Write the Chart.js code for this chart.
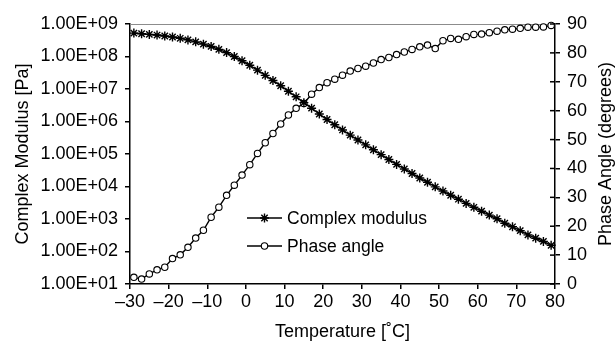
<!DOCTYPE html>
<html>
<head>
<meta charset="utf-8">
<script src="https://cdn.jsdelivr.net/npm/chart.js@4.4.1/dist/chart.umd.min.js"></script>
<style>
  body { margin: 0; background: #fff; }
  #wrap { width: 615px; height: 343px; position: relative; }
</style>
</head>
<body>
<div id="wrap"><canvas id="dmaChart"></canvas></div>
<script>
// temperature sweep (degC), one reading every 2 degrees
const temps = [-29, -27, -25, -23, -21, -19, -17, -15, -13, -11, -9, -7, -5, -3, -1,
  1, 3, 5, 7, 9, 11, 13, 15, 17, 19, 21, 23, 25, 27, 29, 31, 33, 35, 37, 39,
  41, 43, 45, 47, 49, 51, 53, 55, 57, 59, 61, 63, 65, 67, 69, 71, 73, 75, 77, 79];

// complex modulus [Pa]
const modulus = [5.25e8, 5.01e8, 4.79e8, 4.57e8, 4.27e8, 3.98e8, 3.63e8, 3.24e8, 2.82e8, 2.40e8,
  2.04e8, 1.66e8, 1.32e8, 1.00e8, 7.41e7, 5.37e7, 3.80e7, 2.63e7, 1.82e7, 1.26e7,
  8.51e6, 5.75e6, 3.80e6, 2.57e6, 1.70e6, 1.15e6, 7.94e5, 5.50e5, 3.80e5, 2.69e5,
  1.91e5, 1.35e5, 9.55e4, 6.76e4, 4.79e4, 3.47e4, 2.51e4, 1.82e4, 1.35e4, 9.77e3,
  7.24e3, 5.37e3, 4.07e3, 3.02e3, 2.29e3, 1.74e3, 1.32e3, 1.02e3, 7.41e2, 5.75e2,
  4.37e2, 3.24e2, 2.57e2, 2.04e2, 1.55e2];

// phase angle [degrees]
const phaseAngle = [2.3, 1.7, 3.5, 4.9, 5.8, 8.8, 10.1, 12.7, 15.9, 18.6,
  23.1, 26.6, 30.7, 34.2, 37.7, 41.3, 45.2, 48.9, 52.1, 55.4,
  58.5, 60.8, 62.5, 65.7, 68.0, 69.7, 70.9, 72.3, 73.7, 74.6,
  75.4, 76.5, 77.7, 78.4, 79.4, 80.3, 81.2, 82.1, 82.7, 81.5,
  84.2, 85.0, 84.7, 85.6, 86.4, 86.5, 87.0, 87.5, 88.0, 88.2,
  88.5, 88.9, 88.9, 89.0, 89.5];

// axis ticks
const tempTicks = [-30, -20, -10, 0, 10, 20, 30, 40, 50, 60, 70, 80];
const modulusTicks = [1e1, 1e2, 1e3, 1e4, 1e5, 1e6, 1e7, 1e8, 1e9];
const modulusLabels = ['1.00E+01', '1.00E+02', '1.00E+03', '1.00E+04', '1.00E+05',
  '1.00E+06', '1.00E+07', '1.00E+08', '1.00E+09'];
const phaseTicks = [0, 10, 20, 30, 40, 50, 60, 70, 80, 90];

const seriesNames = ['Complex modulus', 'Phase angle'];

const FONT = "'Liberation Sans', Arial, sans-serif";
const tickFont = { family: FONT, size: 18 };

// bits Chart.js doesn't draw the way the figure does
const extras = {
    id: 'extras',
    beforeDatasetsDraw(chart) {
        const { ctx, chartArea: a } = chart;
        ctx.save();
        ctx.strokeStyle = '#8c8c8c';
        ctx.lineWidth = 1;
        ctx.beginPath();
        ctx.moveTo(a.left, a.top + 0.5);
        ctx.lineTo(a.right, a.top + 0.5);
        ctx.stroke();
        ctx.restore();
    },
    afterDraw(chart) {
        const { ctx, chartArea: a, scales } = chart;
        ctx.save();

        // right axis ticks cross the axis line
        const yr = scales.yPhase;
        ctx.strokeStyle = '#000';
        ctx.lineWidth = 1.5;
        yr.ticks.forEach(t => {
            const y = yr.getPixelForValue(t.value);
            ctx.beginPath();
            ctx.moveTo(a.right - 5, y);
            ctx.lineTo(a.right, y);
            ctx.stroke();
        });

        // right title reads bottom-to-top in the figure
        ctx.fillStyle = '#000';
        ctx.font = '18px ' + FONT;
        ctx.textAlign = 'center';
        ctx.textBaseline = 'middle';
        ctx.save();
        ctx.translate(606, (a.top + a.bottom) / 2);
        ctx.rotate(-Math.PI / 2);
        ctx.fillText('Phase Angle (degrees)', 0, 0);
        ctx.restore();

        // legend inside the plot
        const lx = 247, lw = 35;
        const rows = [218, 246];
        chart.data.datasets.forEach((ds, i) => {
            const y = rows[i];
            ctx.strokeStyle = ds.borderColor;
            ctx.lineWidth = ds.borderWidth;
            ctx.beginPath();
            ctx.moveTo(lx, y);
            ctx.lineTo(lx + lw, y);
            ctx.stroke();
            ctx.fillStyle = ds.pointBackgroundColor;
            ctx.strokeStyle = ds.pointBorderColor;
            ctx.lineWidth = ds.pointBorderWidth;
            Chart.helpers.drawPoint(ctx, {
                pointStyle: ds.pointStyle,
                radius: ds.pointRadius,
                rotation: 0,
                borderWidth: ds.pointBorderWidth
            }, lx + lw / 2, y);
            ctx.fillStyle = '#000';
            ctx.font = '17.5px ' + FONT;
            ctx.textAlign = 'left';
            ctx.fillText(ds.label, lx + lw + 5, y + 1);
        });
        ctx.restore();
    }
};

new Chart(document.getElementById('dmaChart'), {
    type: 'line',
    data: {
        datasets: [{
            label: seriesNames[0],
            data: temps.map((t, i) => ({ x: t, y: modulus[i] })),
            yAxisID: 'y',
            borderColor: '#000',
            borderWidth: 1.5,
            pointStyle: 'star',
            pointRadius: 4.5,
            pointBackgroundColor: '#000',
            pointBorderColor: '#000',
            pointBorderWidth: 1.4,
            tension: 0,
            clip: false
        }, {
            label: seriesNames[1],
            data: temps.map((t, i) => ({ x: t, y: phaseAngle[i] })),
            yAxisID: 'yPhase',
            borderColor: '#000',
            borderWidth: 1.4,
            pointStyle: 'circle',
            pointRadius: 3.2,
            pointBackgroundColor: '#fff',
            pointBorderColor: '#000',
            pointBorderWidth: 1.1,
            tension: 0,
            clip: false
        }]
    },
    options: {
        responsive: true,
        maintainAspectRatio: false,
        animation: false,
        layout: { padding: { top: 24, left: 0, right: 0, bottom: 0 } },
        plugins: {
            legend: { display: false },
            tooltip: { enabled: false }
        },
        scales: {
            x: {
                type: 'linear',
                min: -30,
                max: 80,
                afterBuildTicks: s => { s.ticks = tempTicks.map(v => ({ value: v })); },
                afterFit: s => { s.height = 59; },
                ticks: {
                    callback: v => (v < 0 ? '\u2013' + Math.abs(v) : String(v)),
                    font: tickFont,
                    color: '#000',
                    padding: 2,
                    maxRotation: 0,
                    autoSkip: false
                },
                grid: { drawOnChartArea: false, tickLength: 5, color: '#000', lineWidth: 1.5 },
                border: { color: '#000', width: 1.5 },
                title: {
                    display: true,
                    text: 'Temperature [\u02daC]',
                    font: { family: FONT, size: 18 },
                    color: '#000',
                    padding: { top: 0, bottom: 0 }
                }
            },
            y: {
                type: 'logarithmic',
                position: 'left',
                min: 10,
                max: 1e9,
                afterBuildTicks: s => { s.ticks = modulusTicks.map(v => ({ value: v })); },
                afterFit: s => { s.width = 130; },
                ticks: {
                    callback: (v, i) => modulusLabels[i],
                    font: tickFont,
                    color: '#000',
                    padding: 7,
                    autoSkip: false
                },
                grid: { drawOnChartArea: false, tickLength: 5, color: '#000', lineWidth: 1.5 },
                border: { color: '#000', width: 1.5 },
                title: {
                    display: true,
                    text: 'Complex Modulus [Pa]',
                    font: { family: FONT, size: 18 },
                    color: '#000',
                    padding: { top: 12, bottom: 0 }
                }
            },
            yPhase: {
                type: 'linear',
                position: 'right',
                min: 0,
                max: 90,
                afterBuildTicks: s => { s.ticks = phaseTicks.map(v => ({ value: v })); },
                afterFit: s => { s.width = 60; },
                ticks: {
                    font: tickFont,
                    color: '#000',
                    padding: 7
                },
                grid: { drawOnChartArea: false, tickLength: 5, color: '#000', lineWidth: 1.5 },
                border: { color: '#000', width: 1.5 }
            }
        }
    },
    plugins: [extras]
});
</script>
</body>
</html>
